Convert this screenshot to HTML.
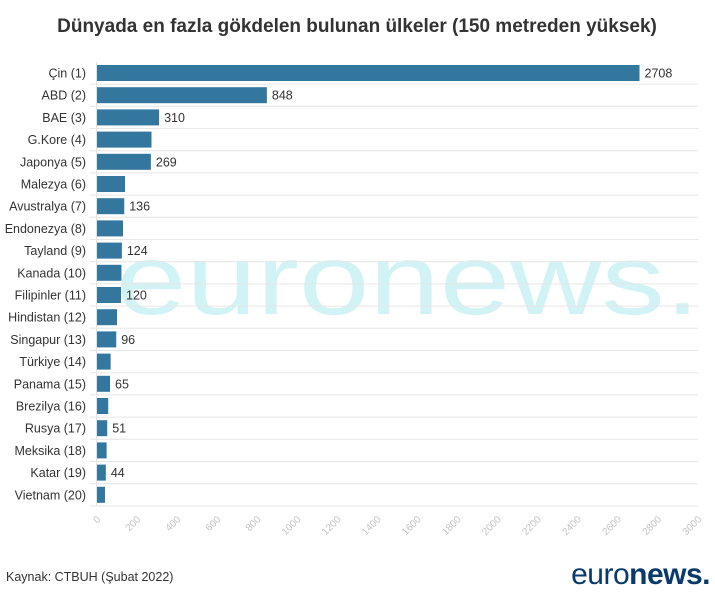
<!DOCTYPE html>
<html><head><meta charset="utf-8"><style>
body{margin:0;background:#fff;width:715px;height:589px;overflow:hidden;font-family:"Liberation Sans",sans-serif}
</style></head><body>
<svg width="715" height="589" xmlns="http://www.w3.org/2000/svg" font-family="Liberation Sans, sans-serif">
<text x="357" y="32" text-anchor="middle" font-size="19" font-weight="bold" fill="#333">Dünyada en fazla gökdelen bulunan ülkeler (150 metreden yüksek)</text>
<text x="116" y="314" font-size="100" fill="#d2f3f5" textLength="584" lengthAdjust="spacingAndGlyphs">euronews.</text>
<g id="g"></g>
<text x="6" y="581" font-size="12.5" fill="#333">Kaynak: CTBUH (Şubat 2022)</text>
<text x="710" y="584" text-anchor="end" font-size="30" fill="#0a3a6b" letter-spacing="-0.5"><tspan font-weight="normal">euro</tspan><tspan font-weight="bold">news.</tspan></text>
</svg>
<script>
const d=[["Çin (1)",2708,1],["ABD (2)",848,1],["BAE (3)",310,1],["G.Kore (4)",272,0],["Japonya (5)",269,1],["Malezya (6)",140,0],["Avustralya (7)",136,1],["Endonezya (8)",130,0],["Tayland (9)",124,1],["Kanada (10)",122,0],["Filipinler (11)",120,1],["Hindistan (12)",100,0],["Singapur (13)",96,1],["Türkiye (14)",68,0],["Panama (15)",65,1],["Brezilya (16)",56,0],["Rusya (17)",51,1],["Meksika (18)",48,0],["Katar (19)",44,1],["Vietnam (20)",40,0]];
const g=document.getElementById('g');let s='';const x0=97,k=601/3000,dy=22.2;
s+=`<line x1="${x0-0.5}" y1="62" x2="${x0-0.5}" y2="506" stroke="#e2e2e2"/>`;
d.forEach((r,i)=>{const c=73+dy*i;const w=r[1]*k;
s+=`<line x1="90" y1="${c+dy/2}" x2="698" y2="${c+dy/2}" stroke="#e6e6e6"/>`;
s+=`<text x="86" y="${c+4.5}" text-anchor="end" font-size="12.5" fill="#333">${r[0]}</text>`;
s+=`<rect x="${x0}" y="${c-8}" width="${w}" height="16" fill="#33779f"/>`;
if(r[2])s+=`<text x="${x0+w+5}" y="${c+4.5}" font-size="12.5" fill="#333">${r[1]}</text>`;});
for(let v=0;v<=3000;v+=200){const x=x0+v*k;s+=`<text transform="translate(${x+4},${520}) rotate(-45)" text-anchor="end" font-size="10" fill="#c4c4c4">${v}</text>`;}
g.innerHTML=s;
</script>
</body></html>
